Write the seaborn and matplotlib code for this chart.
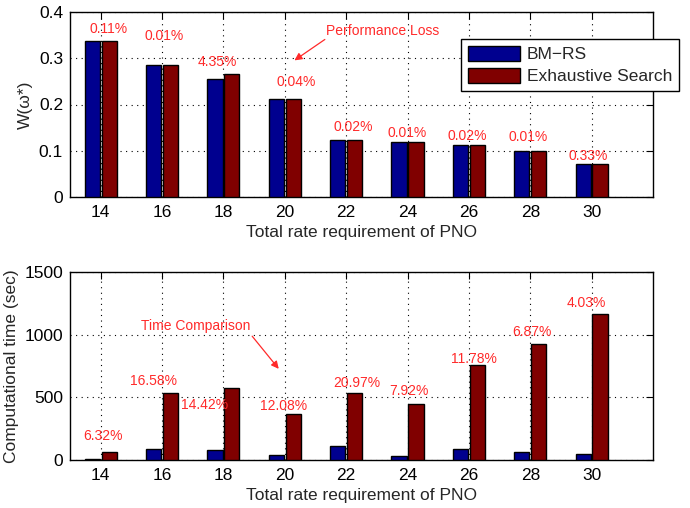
import matplotlib
matplotlib.use("Agg")
import matplotlib.pyplot as plt
import pandas as pd
import seaborn as sns

# ---- data -------------------------------------------------------------
rates = [14, 16, 18, 20, 22, 24, 26, 28, 30]
methods = ["BM\u2212RS", "Exhaustive Search"]

w_bmrs = [0.337, 0.285, 0.255, 0.211, 0.1225, 0.120, 0.112, 0.0995, 0.0707]
w_exh = [0.337, 0.285, 0.267, 0.211, 0.1225, 0.120, 0.112, 0.0995, 0.0707]
loss_labels = ["0.11%", "0.01%", "4.35%", "0.04%", "0.02%",
               "0.01%", "0.02%", "0.01%", "0.33%"]

t_bmrs = [5, 88, 80, 42, 109, 34, 90, 64, 48]
t_exh = [64, 532, 572, 367, 532, 444, 758, 928, 1165]
time_labels = ["6.32%", "16.58%", "14.42%", "12.08%", "20.97%",
               "7.92%", "11.78%", "6.87%", "4.03%"]

# text placement for the percentage notes (category index, value units)
loss_x = [0.13, 1.04, 1.90, 3.19, 4.11, 4.99, 5.97, 6.96, 7.95]
loss_y = [0.363, 0.348, 0.292, 0.249, 0.151, 0.138, 0.132, 0.130, 0.089]
time_x = [0.03, 0.86, 1.69, 2.98, 4.18, 5.02, 6.08, 7.02, 7.92]
time_y = [191, 633, 439, 431, 614, 550, 806, 1021, 1253]

# ---- styling ------------------------------------------------------------
sns.set_theme(style="white")
plt.rcParams["font.family"] = ["Liberation Sans", "DejaVu Sans"]
plt.rcParams["xtick.direction"] = "in"
plt.rcParams["ytick.direction"] = "in"

BLUE = "#00008f"
DARKRED = "#800000"
NOTE = "#ff2a2a"
FS = 12.5
NOTE_FS = 10
palette = {methods[0]: BLUE, methods[1]: DARKRED}

fig = plt.figure(figsize=(6.9, 5.08), dpi=100)
ax1 = fig.add_axes([70 / 690, 1 - 197 / 508, 583 / 690, 185 / 508])
ax2 = fig.add_axes([70 / 690, 1 - 460 / 508, 583 / 690, 188 / 508])

df_w = pd.DataFrame({
    "rate": [str(r) for r in rates] * 2,
    "method": [methods[0]] * len(rates) + [methods[1]] * len(rates),
    "value": w_bmrs + w_exh,
})
df_t = pd.DataFrame({
    "rate": [str(r) for r in rates] * 2,
    "method": [methods[0]] * len(rates) + [methods[1]] * len(rates),
    "value": t_bmrs + t_exh,
})
order = [str(r) for r in rates]


def draw(ax, df, ylim, yticks, ylabel, fmt):
    sns.barplot(data=df, x="rate", y="value", hue="method", order=order,
                hue_order=methods, palette=palette, errorbar=None,
                width=0.55, gap=0.1, edgecolor="black", linewidth=1.0,
                saturation=1.0, ax=ax, zorder=3)
    ax.set_xlim(-0.5, 9.0)
    ax.set_ylim(*ylim)
    ax.set_yticks(yticks)
    ax.set_yticklabels([fmt(v) for v in yticks])
    ax.set_xlabel("Total rate requirement of PNO", fontsize=FS, labelpad=3.5)
    ax.set_ylabel(ylabel, fontsize=FS, labelpad=4)
    ax.tick_params(axis="both", labelsize=FS, length=5, width=0.8,
                   top=True, right=True, colors="black", pad=5)
    ax.tick_params(axis="x", pad=6)
    ax.grid(True, linestyle=(0, (1, 4)), color="black", linewidth=0.8,
            zorder=0)
    for s in ax.spines.values():
        s.set_visible(True)
        s.set_color("black")
        s.set_linewidth(1.0)


draw(ax1, df_w, (0, 0.4), [0, 0.1, 0.2, 0.3, 0.4], "W(\u03c9*)",
     lambda v: "0" if v == 0 else f"{v:.1f}")
draw(ax2, df_t, (0, 1500), [0, 500, 1000, 1500], "Computational time (sec)",
     lambda v: f"{v:d}")

# legend on the top panel
handles, labels = ax1.get_legend_handles_labels()
ax1.legend(handles, labels, loc="upper right", bbox_to_anchor=(1.045, 0.855),
           borderaxespad=0, fontsize=FS, handlelength=3.0, handleheight=1.0,
           frameon=True, fancybox=False, edgecolor="black", framealpha=1,
           borderpad=0.4, labelspacing=0.3, handletextpad=0.4)
ax1.get_legend().get_frame().set_linewidth(1.0)
if ax2.get_legend() is not None:
    ax2.get_legend().remove()

# percentage notes
for x, y, s in zip(loss_x, loss_y, loss_labels):
    ax1.text(x, y, s, color=NOTE, fontsize=NOTE_FS, ha="center",
             va="center", zorder=5)
for x, y, s in zip(time_x, time_y, time_labels):
    ax2.text(x, y, s, color=NOTE, fontsize=NOTE_FS, ha="center",
             va="center", zorder=5)

ax1.text(4.6, 0.359, "Performance Loss", color=NOTE, fontsize=NOTE_FS,
         ha="center", va="center", zorder=5)
ax1.annotate("", xy=(3.12, 0.292), xytext=(3.69, 0.344),
             arrowprops=dict(arrowstyle="-|>", color=NOTE, lw=0.9,
                             mutation_scale=11), zorder=5)
ax2.text(1.545, 1069, "Time Comparison", color=NOTE, fontsize=NOTE_FS,
         ha="center", va="center", zorder=5)
ax2.annotate("", xy=(2.93, 710), xytext=(2.44, 1005),
             arrowprops=dict(arrowstyle="-|>", color=NOTE, lw=0.9,
                             mutation_scale=11), zorder=5)

fig.savefig("out.png", dpi=100)
